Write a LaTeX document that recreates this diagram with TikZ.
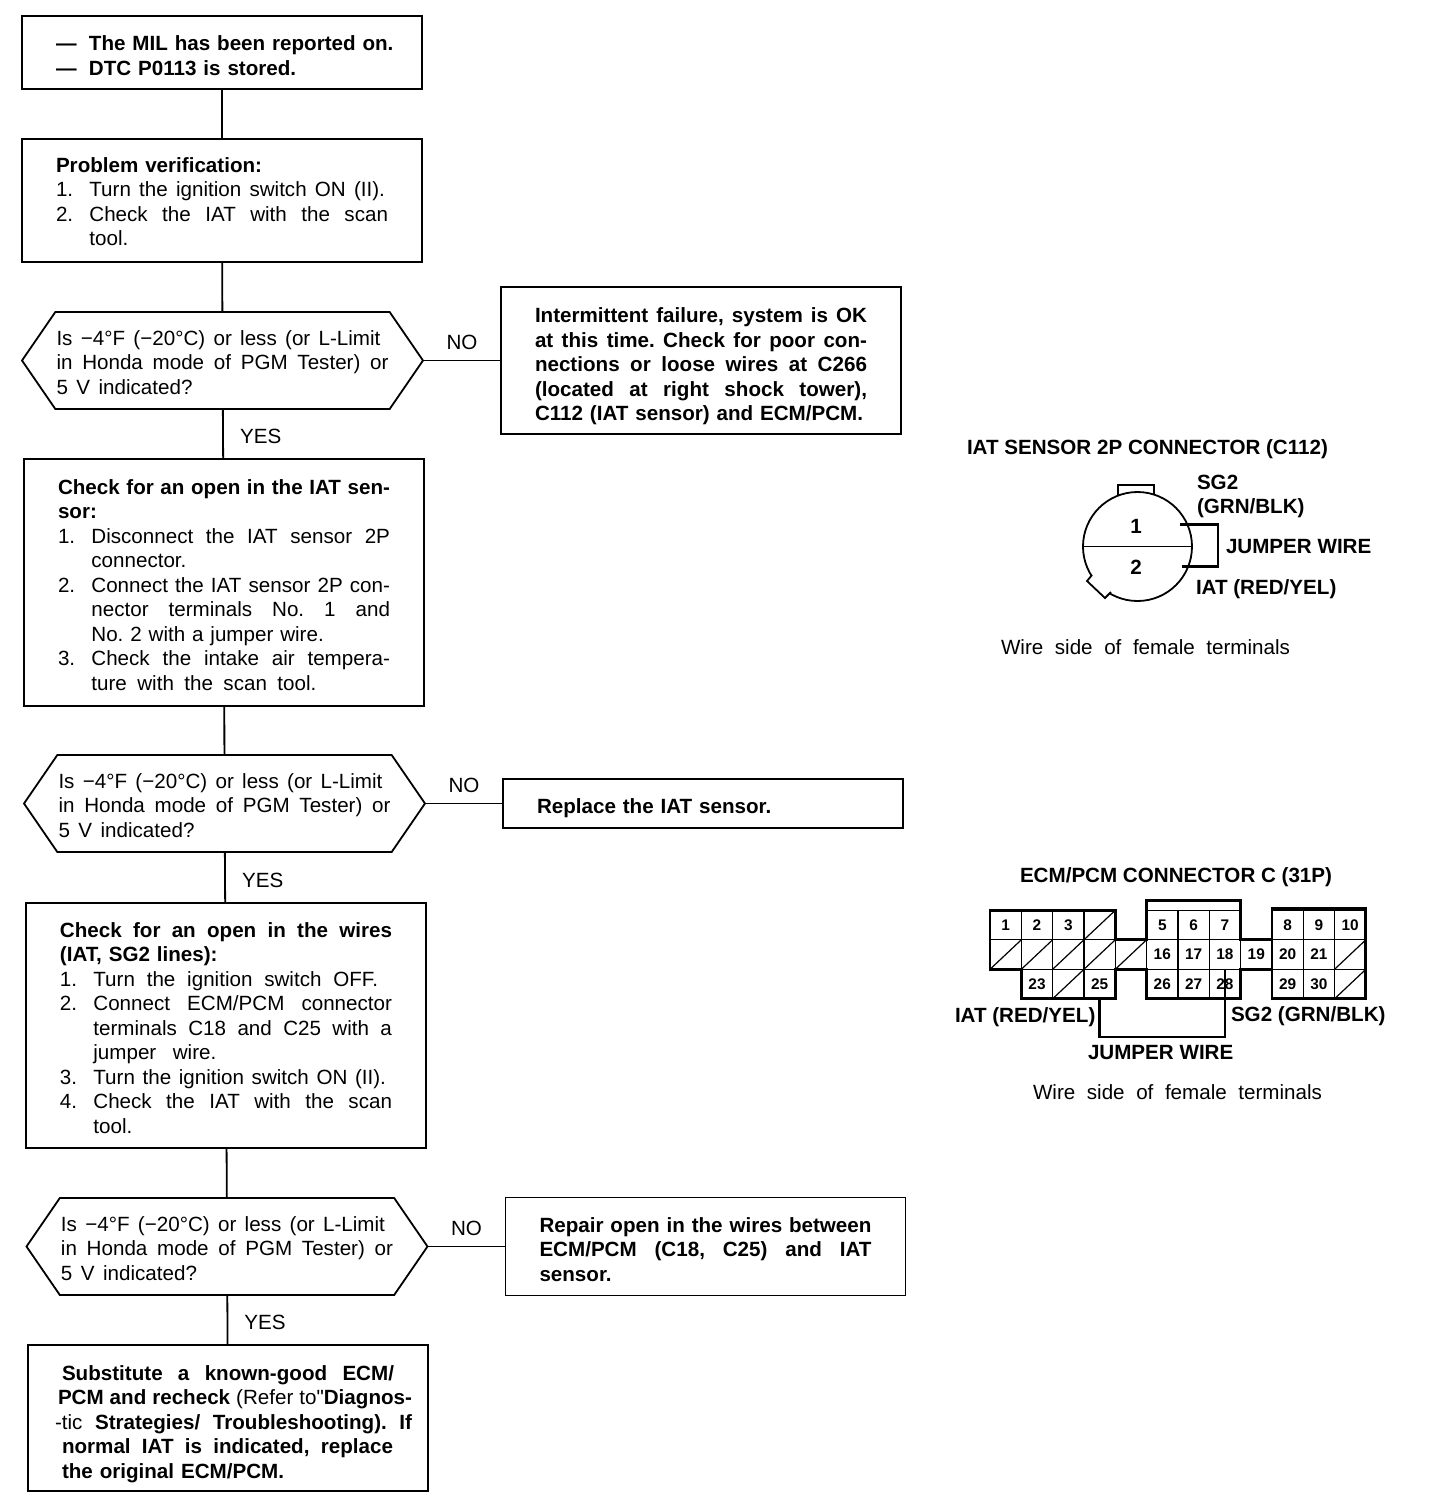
\documentclass[tikz,border=0pt]{standalone}
\usepackage{fontspec}
\setmainfont{Liberation Sans}
\newfontfamily\plainq{Liberation Sans}
\usetikzlibrary{positioning,shapes.symbols}
\frenchspacing
\newcommand{\jlw}[2]{\makebox[#1][s]{\spaceskip=.278em plus 1fil minus .1em\relax #2}}
\newcommand{\jl}[1]{\jlw{166pt}{#1}}
\newcommand{\nm}[1]{\makebox[16.7pt][l]{#1}}
\newcommand{\nmi}{\hspace*{16.7pt}}
\newcommand{\dn}[1]{\rule{0pt}{\dimexpr 7.5pt+#1\relax}}
\newcommand{\asktext}{%
\jlw{162pt}{Is −4°F (−20°C) or less (or L-Limit}\\
\jlw{166pt}{in Honda mode of PGM Tester) or}\\
\jlw{68pt}{5 V indicated?}}
\begin{document}
\begin{tikzpicture}[
x=0.5pt,y=-0.5pt,
line width=0.9pt,
every node/.style={outer sep=0pt},
flowbox/.style={draw,rectangle,align=left,text width=166pt,minimum width=200pt,inner sep=0pt,font=\fontsize{10.3}{12.25}\selectfont},
boldbox/.style={flowbox,font=\fontsize{10.3}{12.25}\selectfont\bfseries},
ask/.style={draw,signal,signal from=nowhere,signal to=east and west,signal pointer angle=111,align=left,text width=166pt,minimum width=200.5pt,minimum height=48.5pt,inner sep=0pt,font=\fontsize{10.3}{12.25}\selectfont},
edgetext/.style={inner sep=0pt,font=\fontsize{10.3}{12.25}\selectfont},
lbl/.style={anchor=west,inner sep=0pt,font=\fontsize{10.3}{12.25}\selectfont\bfseries},
plain/.style={anchor=west,inner sep=0pt,font=\fontsize{10.3}{12.25}\selectfont},
cell/.style={draw,rectangle,line width=0.6pt,minimum width=15.66pt,minimum height=14.75pt,inner sep=0pt,font=\fontsize{7.7}{9}\selectfont\bfseries},
slot/.style={cell,path picture={\draw[line width=0.6pt] (path picture bounding box.south west) -- (path picture bounding box.north east);}},
wire/.style={line width=1.2pt},
outline/.style={line width=1.4pt}
]
\useasboundingbox (0,0) rectangle (1440,1512);
% flow
\node[boldbox,minimum height=36.5pt] (start) at (222,52.5) {\dn{3pt}%
\makebox[16.5pt][l]{---}\mbox{The MIL has been reported on.}\\
\makebox[16.5pt][l]{---}DTC P0113 is stored.};
\node[flowbox,minimum height=61.5pt,below=25pt of start] (verify) {\dn{1pt}%
\textbf{Problem verification:}\\
\jlw{164.5pt}{\nm{1.}Turn the ignition switch ON (II).}\\
\jl{\nm{2.}Check the IAT with the scan}\\
\nmi tool.};
\node[ask,below=25pt of verify,xshift=0.25pt] (askA) {\dn{2pt}\asktext};
\node[boldbox,minimum height=73.5pt,right=39pt of askA] (noteA) {\dn{6pt}%
\jl{Intermittent failure, system is OK}\\
\jl{at this time. Check for poor con-}\\
\jl{nections or loose wires at C266}\\
\jl{(located at right shock tower),}\\
C112 (IAT sensor) and ECM/PCM.};
\node[flowbox,minimum height=123.5pt,below=25pt of askA,xshift=0.75pt] (checkA) {\dn{2.5pt}%
\jl{\textbf{Check for an open in the IAT sen-}}\\
\textbf{sor:}\\
\jl{\nm{1.}Disconnect the IAT sensor 2P}\\
\nmi connector.\\
\jl{\nm{2.}Connect the IAT sensor 2P con-}\\
\nmi\jlw{149.3pt}{nector terminals No. 1 and}\\
\nmi No. 2 with a jumper wire.\\
\jl{\nm{3.}Check the intake air tempera-}\\
\nmi\jlw{112.5pt}{ture with the scan tool.}};
\node[ask,below=24.5pt of checkA,xshift=0.25pt] (askB) {\dn{2pt}\asktext};
\node[boldbox,minimum height=24.5pt,right=39pt of askB] (noteB) {\dn{5pt}Replace the IAT sensor.};
\node[flowbox,minimum height=122.5pt,below=25.5pt of askB,xshift=0.75pt] (checkB) {\dn{2.5pt}%
\jl{\textbf{Check for an open in the wires}}\\
\textbf{(IAT, SG2 lines):}\\
\jlw{159pt}{\nm{1.}Turn the ignition switch OFF.}\\
\jl{\nm{2.}Connect ECM/PCM connector}\\
\nmi\jlw{149.3pt}{terminals C18 and C25 with a}\\
\nmi\jlw{61.5pt}{jumper wire.}\\
\jlw{163pt}{\nm{3.}Turn the ignition switch ON (II).}\\
\jl{\nm{4.}Check the IAT with the scan}\\
\nmi tool.};
\node[ask,below=25pt of checkB,xshift=0.5pt] (askC) {\dn{2pt}\asktext};
\node[boldbox,minimum height=49pt,right=39pt of askC] (noteC) {\dn{3pt}%
\jl{Repair open in the wires between}\\
\jl{ECM/PCM (C18, C25) and IAT}\\
sensor.};
\node[boldbox,minimum height=73pt,below=25pt of askC,xshift=0.5pt] (final) {\dn{6pt}%
\jl{Substitute a known-good ECM/}\\
\hspace*{-2pt}\jlw{177pt}{PCM and recheck \textmd{(Refer to{\plainq\symbol{34}}}Diagnos-}\\
\hspace*{-3.5pt}\jlw{178.5pt}{\textmd{-tic} Strategies/ Troubleshooting). If}\\
\jlw{165.5pt}{normal IAT is indicated, replace}\\
the original ECM/PCM.};
\draw (start) -- (verify);
\draw (verify) -- (askA);
\draw (askA) -- node[right=8.5pt,edgetext,pos=0.55] (yesA) {YES} (checkA);
\draw (askA.east) -- node[above=5.5pt,edgetext] (noA) {NO} (noteA.west);
\draw (checkA) -- (askB);
\draw (askB) -- node[right=8.5pt,edgetext,pos=0.55] (yesB) {YES} (checkB);
\draw (askB.east) -- node[above=5.5pt,edgetext] (noB) {NO} (noteB.west);
\draw (checkB) -- (askC);
\draw (askC) -- node[right=8.5pt,edgetext,pos=0.55] (yesC) {YES} (final);
\draw (askC.east) -- node[above=5.5pt,edgetext] (noC) {NO} (noteC.west);
% IAT sensor connector
\node[lbl] (titleA) at (967,449) {IAT SENSOR 2P CONNECTOR (C112)};
\node[draw,rectangle,minimum width=18pt,minimum height=5pt,inner sep=0pt] (tab) at (1136,490) {};
\node[draw,circle,fill=white,minimum size=54.5pt,inner sep=0pt] (plug) at (1137.5,546.5) {};
\draw[fill=white] (1092,575) -- (1087,581) -- (1105,598) -- (1111,592);
\draw (plug.west) -- (plug.east);
\node[lbl,anchor=center] (pinA) at (1136,526) {1};
\node[lbl,anchor=center] (pinB) at (1136,567) {2};
\coordinate (jmpA) at (1180,524.5);
\coordinate (jmpB) at (1218,566.5);
\coordinate (jmpC) at (1182,566.5);
\draw[wire] (jmpA) -| (jmpB) -- (jmpC);
\node[lbl] (sgA) at (1197,482) {SG2};
\node[lbl] (grnA) at (1197,508) {(GRN/BLK)};
\node[lbl] (jumperA) at (1226,547) {JUMPER WIRE};
\node[lbl] (iatA) at (1196,589) {IAT (RED/YEL)};
\node[plain] (sideA) at (1001,647) {\jlw{144.5pt}{Wire side of female terminals}};
% ECM/PCM connector
\node[lbl] (titleB) at (1020,877) {ECM/PCM CONNECTOR C (31P)};
\node[slot] (sB) at (1005.7,954.5) {};
\node[slot,right=0pt of sB] (sC) {};
\node[slot,right=0pt of sC] (sD) {};
\node[slot,right=0pt of sD] (sE) {};
\node[slot,right=0pt of sE] (sF) {};
\node[cell,right=0pt of sF] (p16) {16};
\node[cell,right=0pt of p16] (p17) {17};
\node[cell,right=0pt of p17] (p18) {18};
\node[cell,right=0pt of p18] (p19) {19};
\node[cell,right=0pt of p19] (p20) {20};
\node[cell,right=0pt of p20] (p21) {21};
\node[slot,right=0pt of p21] (sG) {};
\node[cell,above=0pt of sB] (p1) {1};
\node[cell,above=0pt of sC] (p2) {2};
\node[cell,above=0pt of sD] (p3) {3};
\node[slot,above=0pt of sE] (sA) {};
\node[cell,above=0pt of p16] (p5) {5};
\node[cell,above=0pt of p17] (p6) {6};
\node[cell,above=0pt of p18] (p7) {7};
\node[cell,above=0pt of p20] (p8) {8};
\node[cell,above=0pt of p21] (p9) {9};
\node[cell,above=0pt of sG] (p10) {10};
\node[cell,below=0pt of sC] (p23) {23};
\node[slot,below=0pt of sD] (sH) {};
\node[cell,below=0pt of sE] (p25) {25};
\node[cell,below=0pt of p16] (p26) {26};
\node[cell,below=0pt of p17] (p27) {27};
\node[cell,below=0pt of p18] (p28) {28};
\node[cell,below=0pt of p20] (p29) {29};
\node[cell,below=0pt of p21] (p30) {30};
\node[slot,below=0pt of sG] (sI) {};
\draw[outline] (p1.north west) -- (sA.north east) -- (sA.south east) -- (p16.north west) -- ([yshift=5pt]p5.north west) -- ([yshift=5pt]p7.north east) -- (p19.north west) -- (p20.north west) -- ([yshift=1pt]p8.north west) -- ([yshift=1pt]p10.north east) -- (sI.south east) -- (p29.south west) -- (p29.north west) -- (p28.north east) -- (p28.south east) -- (p26.south west) -- (p26.north west) -- (p25.north east) -- (p25.south east) -- (p23.south west) -- (p23.north west) -- (sB.south west) -- cycle;
\coordinate (jmpD) at (1160,1037);
\draw[wire] (p25.south) |- (jmpD) -| (p28.north);
\node[lbl] (iatB) at (955,1017) {IAT (RED/YEL)};
\node[lbl] (sgB) at (1231,1016) {SG2 (GRN/BLK)};
\node[lbl] (jumperB) at (1088,1052) {JUMPER WIRE};
\node[plain] (sideB) at (1033,1092) {\jlw{144.5pt}{Wire side of female terminals}};
\end{tikzpicture}
\end{document}
